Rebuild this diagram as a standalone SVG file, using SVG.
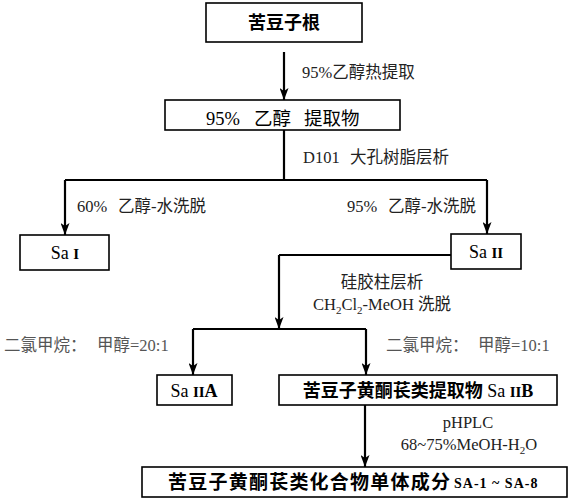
<svg xmlns="http://www.w3.org/2000/svg" width="575" height="500" viewBox="0 0 575 500">
<defs>
<marker id="arr" markerUnits="userSpaceOnUse" markerWidth="12" markerHeight="9" refX="12" refY="4.5" orient="auto">
<path d="M0,0 L12,4.5 L0,9 L3,4.5 z" fill="#000"/>
</marker>
<style>
.box{fill:#fff;stroke:#000;stroke-width:1.6}
.ln{fill:none;stroke:#000;stroke-width:2.2}
.ar{fill:none;stroke:#000;stroke-width:2.2;marker-end:url(#arr)}
text{font-family:"Liberation Serif","Noto Sans CJK SC",serif;fill:#000}
.lbl{font-size:16.5px;fill:#222}
.gl{font-size:16.5px;fill:#555}
.bt{font-size:18px;text-anchor:middle}
.b{font-weight:bold}
</style>
</defs>
<rect width="575" height="500" fill="#fff"/>
<g id="connectors">
<path class="ar" d="M284,52 V100"/>
<path class="ln" d="M284,130 V180 M65,180 H487"/>
<path class="ar" d="M65,180 V235"/>
<path class="ar" d="M487,180 V234"/>
<path class="ln" d="M451,255 H279"/>
<path class="ar" d="M279,255 V329"/>
<path class="ln" d="M193,329 H366"/>
<path class="ar" d="M193,329 V375"/>
<path class="ar" d="M366,329 V375"/>
<path class="ar" d="M365,405 V467"/>
</g>
<g id="labels">
<text class="lbl" x="302" y="78">95%乙醇热提取</text>
<text class="lbl" y="163"><tspan x="303">D101</tspan><tspan x="350">大孔树脂层析</tspan></text>
<text class="lbl" y="212"><tspan x="77">60%</tspan><tspan x="118">乙醇-水洗脱</tspan></text>
<text class="lbl" y="212"><tspan x="347">95%</tspan><tspan x="388">乙醇-水洗脱</tspan></text>
<text class="lbl" x="382" y="288" text-anchor="middle">硅胶柱层析</text>
<text class="lbl" x="382" y="310" text-anchor="middle">CH<tspan font-size="11" dy="4">2</tspan><tspan dy="-4">Cl</tspan><tspan font-size="11" dy="4">2</tspan><tspan dy="-4">-MeOH 洗脱</tspan></text>
<text class="gl" y="351"><tspan x="4">二氯甲烷：</tspan><tspan x="97">甲醇=20:1</tspan></text>
<text class="gl" y="351"><tspan x="386">二氯甲烷：</tspan><tspan x="478">甲醇=10:1</tspan></text>
<text class="lbl" x="468" y="428" text-anchor="middle" font-size="17">pHPLC</text>
<text class="lbl" x="469" y="450" text-anchor="middle" font-size="17">68~75%MeOH-H<tspan font-size="11" dy="4">2</tspan><tspan dy="-4">O</tspan></text>
</g>
<g id="n-root">
<rect class="box" x="206" y="3" width="156" height="39"/>
<text class="bt b" x="284" y="29" font-size="20">苦豆子根</text>
</g>
<g id="n-extract">
<rect class="box" x="165" y="100" width="235" height="30"/>
<text font-size="18.5" y="125"><tspan x="206">95%</tspan><tspan x="254">乙醇</tspan><tspan x="304">提取物</tspan></text>
</g>
<g id="n-sa1">
<rect class="box" x="20" y="235" width="89" height="35"/>
<text class="bt" x="65" y="259">Sa <tspan class="b" font-size="15">I</tspan></text>
</g>
<g id="n-sa2">
<rect class="box" x="451" y="234" width="70" height="35"/>
<text class="bt" x="486" y="258">Sa <tspan class="b" font-size="15">II</tspan></text>
</g>
<g id="n-sa2a">
<rect class="box" x="157" y="375" width="75" height="30"/>
<text class="bt" x="194" y="397">Sa <tspan class="b" font-size="15">II</tspan><tspan class="b">A</tspan></text>
</g>
<g id="n-sa2b">
<rect class="box" x="279" y="375" width="278" height="30"/>
<text class="bt" x="418" y="397"><tspan class="b">苦豆子黄酮苌类提取物</tspan> Sa <tspan class="b" font-size="15">II</tspan><tspan class="b">B</tspan></text>
</g>
<g id="n-final">
<rect class="box" x="142" y="467" width="425" height="30"/>
<text class="b" x="168" y="489" font-size="19" textLength="282" lengthAdjust="spacing">苦豆子黄酮苌类化合物单体成分</text>
<text class="b" x="454" y="488" font-size="14" letter-spacing="1">SA-1 ~ SA-8</text>
</g>
</svg>
